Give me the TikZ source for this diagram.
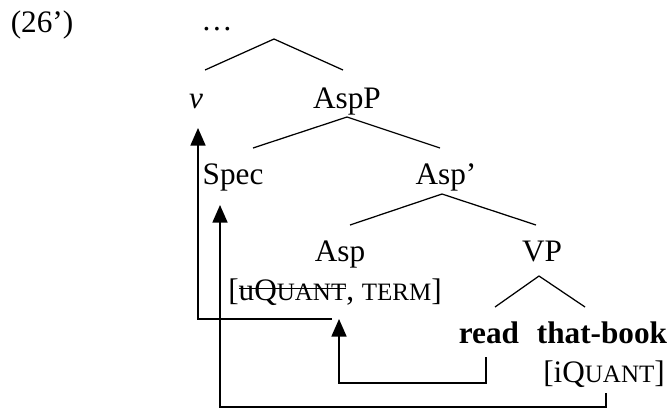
\documentclass[tikz,border=0pt]{standalone}
\usepackage{fontspec}
\setmainfont{Liberation Serif}
\usetikzlibrary{calc}
\usetikzlibrary{arrows.meta}
\newsavebox\strikebox
\newcommand{\struck}[1]{\sbox\strikebox{#1}\rlap{\rule[0.75ex]{\wd\strikebox}{0.5pt}}\usebox\strikebox}
\newcommand{\fsc}[1]{{\fontsize{10}{11}\selectfont #1}}

\begin{document}
\begin{tikzpicture}[x=0.4pt,y=-0.4pt,
                    my label/.style={
                        anchor=base,
                        inner sep=0pt,
                        font=\fontsize{12.5}{14}\selectfont},
                    my branch/.style={line width=0.5pt},
                    my move/.style={line width=0.6pt,-{Triangle[length=7pt,width=6pt]}}]
\useasboundingbox (0,0) rectangle (670,408);
% labels of the tree, placed on their baselines
\node[my label] (ex) at (42,32) {(26')};
\node[my label] (dots) at (217,30) {…};
\node[my label] (v) at (196,108) {\textit{v}};
\node[my label] (AspP) at (347,108) {AspP};
\node[my label] (Spec) at (233,184) {Spec};
\node[my label] (Aspbar) at (446,184) {Asp'};
\node[my label] (Asp) at (340,261) {Asp};
\node[my label] (VP) at (542,261) {VP};
\node[my label] (feat) at (335,300) {[\struck{uQ\fsc{UANT}}, \fsc{TERM}]};
\node[my label] (read) at (489,343) {\textbf{read}};
\node[my label] (book) at (602,343) {\textbf{that-book}};
\node[my label] (iq) at (604,382) {[iQ\fsc{UANT}]};
% branches
\draw[my branch] ($(v.base)+(9,-38)$) -- ($(dots.base)+(57,9)$) -- ($(AspP.base)+(-4,-38)$);
\draw[my branch] ($(Spec.base)+(20,-36)$) -- ($(AspP.base)+(0,9)$) -- ($(Aspbar.base)+(-6,-36)$);
\draw[my branch] ($(Asp.base)+(10,-36)$) -- ($(Aspbar.base)+(-4,10)$) -- ($(VP.base)+(-6,-36)$);
\draw[my branch] ($(read.base)+(6,-36)$) -- ($(VP.base)+(-3,15)$) -- ($(book.base)+(-17,-36)$);
% movement arrows
\draw[my move] ($(read.base)+(-3,14)$) -- ++(0,26) -| ($(feat.base)+(4,19)$); % verb to Asp
\draw[my move] ($(feat.base)+(-3,19)$) -| ($(v.base)+(2,20)$); % Asp to v
\draw[my move] ($(iq.base)+(2,11)$) -- ++(0,14) -| ($(Spec.base)+(-13,21)$); % object to Spec
\end{tikzpicture}
\end{document}
